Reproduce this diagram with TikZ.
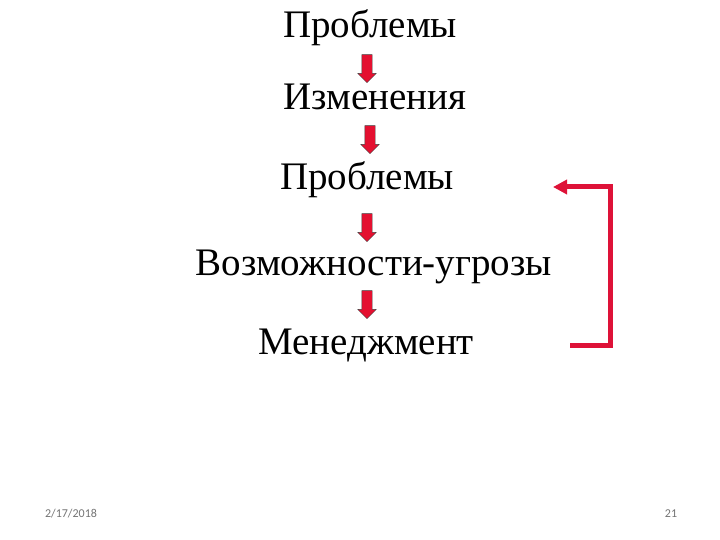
\documentclass[tikz,border=0pt]{standalone}
\usepackage{fontspec}
\setmainfont{Liberation Serif}
\newfontfamily\footfont{Carlito}
\usetikzlibrary{shapes.arrows,arrows.meta,positioning,calc}
\definecolor{arrred}{RGB}{228,16,48}
\definecolor{loopred}{RGB}{222,18,56}

\begin{document}
\begin{tikzpicture}[x=1pt,y=-1pt]
    \useasboundingbox (0,0) rectangle (720,540);
    \tikzset{word/.style={anchor=base, inner sep=0pt, font=\fontsize{39}{42}\selectfont},
             blockarr/.style={single arrow, draw=black!75, fill=arrred, rotate=-90, inner sep=5pt,
                              single arrow head extend=4pt, minimum height=28pt, minimum width=18pt},
             foot/.style={text=black!55, font=\footfont\fontsize{12}{13}\selectfont}}
    \node(probla) [word] at (370,38) {Проблемы};
    \node(izmen) [word] at (375,110) {Изменения};
    \node(problb) [word] at (367,190) {Проблемы};
    \node(vozm) [word] at (374,275) {Возможности-угрозы};
    \node(mened) [word] at (366,354) {Менеджмент};
    \node(arra) [blockarr] at (367,66) {};
    \node(arrb) [blockarr] at (370,137) {};
    \node(arrc) [blockarr] at (367,225) {};
    \node(arrd) [blockarr] at (367,302) {};
    \coordinate(loopa) at (570,345);
    \coordinate(loopb) at (553,187);
    \draw[loopred, line width=5pt, -{Triangle[length=14pt,width=14pt]}] (loopa) -- (610,345) -- (610,187) -- (loopb);
    \node(date) [foot] at (71,514) {2/17/2018};
    \node(page) [foot] at (671,514) {21};
  \end{tikzpicture}
\end{document}
